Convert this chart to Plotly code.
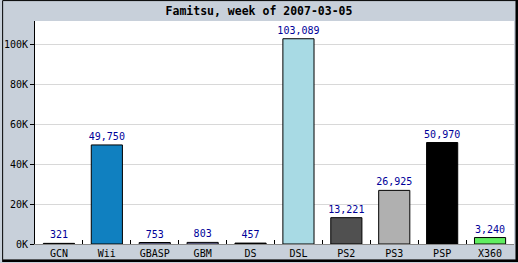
import plotly.graph_objects as go

categories = ["GCN", "Wii", "GBASP", "GBM", "DS", "DSL", "PS2", "PS3", "PSP", "X360"]
values = [321, 49750, 753, 803, 457, 103089, 13221, 26925, 50970, 3240]
labels = ["321", "49,750", "753", "803", "457", "103,089", "13,221", "26,925", "50,970", "3,240"]
colors = ["#101010", "#1080c0", "#a8a8e8", "#a8a8e8", "#101010", "#a8dae4",
          "#505050", "#b0b0b0", "#000000", "#60ee60"]
ytickvals = [0, 20000, 40000, 60000, 80000, 100000]
yticktext = ["0K", "20K", "40K", "60K", "80K", "100K"]

W, H = 518, 263
L, R, T, B = 33, 4, 21, 18
pw, ph = W - L - R, H - T - B

def px(x):
    return (x - L) / pw

def py(y):
    return (H - B - y) / ph

mono = "DejaVu Sans Mono"

fig = go.Figure(go.Bar(
    x=categories, y=values, text=labels, textposition="outside",
    constraintext="none",
    textfont=dict(family=mono, size=10, color="#000099"),
    marker=dict(color=colors, line=dict(color="black", width=1)),
    cliponaxis=False, width=0.65,
))

fig.update_layout(
    width=W, height=H,
    margin=dict(l=L, r=R, t=T, b=B, pad=0),
    paper_bgcolor="#c8d0da", plot_bgcolor="white",
    showlegend=False,
    title=dict(text="<b>Famitsu, week of 2007-03-05</b>", x=0.5, xanchor="center",
               y=1 - 11 / H, yanchor="middle",
               font=dict(family=mono, size=11.5, color="black")),
    xaxis=dict(showgrid=False, ticks="inside", ticklen=4, tickcolor="black",
               tickson="boundaries", showline=True, linecolor="#888888", linewidth=1,
               tickfont=dict(family=mono, size=10, color="black"), fixedrange=True),
    yaxis=dict(range=[0, 112000], tickvals=ytickvals, ticktext=yticktext,
               showgrid=True, gridcolor="#d8d8d8", gridwidth=1,
               ticks="outside", ticklen=4, tickcolor="black",
               showline=True, linecolor="black", linewidth=1, zeroline=False,
               tickfont=dict(family=mono, size=10, color="black")),
    shapes=[
        dict(type="rect", xref="paper", yref="paper",
             x0=px(0.5), x1=px(516.0), y0=py(0.5), y1=py(261.0),
             line=dict(color="black", width=1), layer="above"),
        dict(type="line", xref="paper", yref="paper",
             x0=px(517), x1=px(517), y0=py(0), y1=py(263),
             line=dict(color="black", width=2), layer="above"),
        dict(type="line", xref="paper", yref="paper",
             x0=px(0), x1=px(518), y0=py(262), y1=py(262),
             line=dict(color="black", width=2), layer="above"),
    ],
)

fig.write_html("out.html")
